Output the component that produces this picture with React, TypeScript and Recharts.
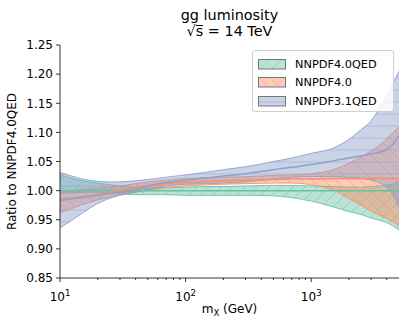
import { Area, ComposedChart, Legend, Line, XAxis, YAxis } from "recharts";

// invariant mass points (GeV)
const masses = [10, 12, 15, 20, 25, 30, 40, 50, 70, 100, 150, 200, 300, 500, 700, 1000, 1500, 2000, 2500, 3000, 3500, 4000, 4500, 5000];

// NNPDF4.0QED (reference)
const qedCentral = [1, 1, 1, 1, 1, 1, 1, 1, 1, 1, 1, 1, 1, 1, 1, 1, 1, 1, 1, 1, 1, 1, 1, 1];
const qedLow = [0.996, 0.996, 0.997, 0.997, 0.996, 0.995, 0.993, 0.993, 0.993, 0.992, 0.992, 0.992, 0.992, 0.991, 0.988, 0.982, 0.972, 0.964, 0.959, 0.953, 0.949, 0.945, 0.939, 0.932];
const qedHigh = [1.027, 1.022, 1.017, 1.013, 1.01, 1.008, 1.005, 1.004, 1.005, 1.006, 1.007, 1.007, 1.008, 1.009, 1.009, 1.008, 1.007, 1.006, 1.006, 1.007, 1.008, 1.01, 1.012, 1.015];

// NNPDF4.0
const n40Central = [0.982, 0.985, 0.989, 0.993, 0.997, 1.0, 1.005, 1.008, 1.012, 1.014, 1.016, 1.017, 1.018, 1.019, 1.02, 1.02, 1.021, 1.021, 1.021, 1.021, 1.021, 1.021, 1.021, 1.021];
const n40Low = [0.962, 0.968, 0.976, 0.984, 0.989, 0.993, 0.998, 1.001, 1.005, 1.008, 1.01, 1.011, 1.012, 1.013, 1.013, 1.01, 1.001, 0.986, 0.975, 0.965, 0.958, 0.952, 0.946, 0.94];
const n40High = [0.999, 1.0, 1.002, 1.004, 1.006, 1.008, 1.012, 1.015, 1.018, 1.021, 1.022, 1.023, 1.024, 1.026, 1.027, 1.029, 1.036, 1.047, 1.058, 1.068, 1.078, 1.089, 1.1, 1.11];

// NNPDF3.1QED
const n31Central = [0.984, 0.986, 0.989, 0.992, 0.995, 0.997, 1.001, 1.008, 1.014, 1.018, 1.022, 1.025, 1.029, 1.036, 1.04, 1.045, 1.051, 1.056, 1.06, 1.063, 1.066, 1.071, 1.08, 1.094];
const n31Low = [0.936, 0.947, 0.961, 0.978, 0.987, 0.992, 0.997, 1.002, 1.008, 1.011, 1.012, 1.013, 1.015, 1.02, 1.023, 1.024, 1.024, 1.023, 1.021, 1.018, 1.013, 1.005, 0.992, 0.972];
const n31High = [1.031, 1.026, 1.02, 1.016, 1.015, 1.015, 1.017, 1.019, 1.023, 1.027, 1.032, 1.036, 1.041, 1.05, 1.056, 1.064, 1.073, 1.088, 1.105, 1.12, 1.142, 1.162, 1.185, 1.205];

const yTicks = [0.85, 0.9, 0.95, 1.0, 1.05, 1.1, 1.15, 1.2, 1.25];
const majorTicks = [10, 100, 1000];
const minorTicks = [20, 30, 40, 50, 60, 70, 80, 90, 200, 300, 400, 500, 600, 700, 800, 900, 2000, 3000, 4000];

const series = [
  { key: "qed", central: "qedC", name: "NNPDF4.0QED", color: "#66c2a5", hatch: "M0,12 L12,0 M-3,3 L3,-3 M9,15 L15,9" },
  { key: "n40", central: "n40C", name: "NNPDF4.0", color: "#fc8d62", hatch: "M0,0 L12,12 M-3,9 L3,15 M9,-3 L15,3" },
  { key: "n31", central: "n31C", name: "NNPDF3.1QED", color: "#8da0cb", hatch: "M0,6 L12,6" },
];

const data = masses.map((m, i) => ({
  m,
  qed: [qedLow[i], qedHigh[i]],
  n40: [n40Low[i], n40High[i]],
  n31: [n31Low[i], n31High[i]],
  qedC: qedCentral[i],
  n40C: n40Central[i],
  n31C: n31Central[i],
}));

const FONT = "'DejaVu Sans', sans-serif";

function XTick({ x, y, payload }: any) {
  const v = payload.value;
  const major = majorTicks.includes(v);
  return (
    <g>
      <line x1={x} x2={x} y1={y} y2={y + (major ? 4 : 2)} stroke="#000" strokeWidth={0.8} />
      {major && (
        <text x={x} y={y + 23} textAnchor="middle" fontSize={12} fill="#000" fontFamily={FONT}>
          10
          <tspan dy={-5} fontSize={8.5}>
            {Math.round(Math.log10(v))}
          </tspan>
        </text>
      )}
    </g>
  );
}

function XLabel({ viewBox }: any) {
  const cx = viewBox.x + viewBox.width / 2;
  return (
    <text x={cx} y={viewBox.y + 35} textAnchor="middle" fontSize={12} fill="#000" fontFamily={FONT}>
      m
      <tspan fontSize={8.5} dy={3}>
        X
      </tspan>
      <tspan dy={-3}> (GeV)</tspan>
    </text>
  );
}

function YLabel({ viewBox }: any) {
  const cy = viewBox.y + viewBox.height / 2;
  return (
    <text x={16} y={cy} transform={`rotate(-90 16 ${cy})`} textAnchor="middle" fontSize={12} fill="#000" fontFamily={FONT}>
      Ratio to NNPDF4.0QED
    </text>
  );
}

function LegendBox() {
  return (
    <div
      style={{
        background: "rgba(255,255,255,0.8)",
        border: "1px solid #d0d0d0",
        borderRadius: 3,
        padding: "4px 5px",
        boxSizing: "border-box",
        width: 142,
        height: 62,
        fontFamily: FONT,
        fontSize: 11.3,
        color: "#000",
      }}
    >
      {series.map((s) => (
        <div key={s.key} style={{ display: "flex", alignItems: "center", height: 18.5 }}>
          <svg width={28} height={11} style={{ marginRight: 9 }}>
            <rect x={0.5} y={0.5} width={27} height={9.5} fill={`url(#hatch-${s.key})`} stroke="#777" strokeWidth={1} />
          </svg>
          <span>{s.name}</span>
        </div>
      ))}
    </div>
  );
}

export default function App() {
  return (
    <div style={{ position: "absolute", left: 0, top: 0, width: 407, height: 324, background: "#fff", fontFamily: FONT }}>
      <div
        style={{
          position: "absolute",
          left: 129.5,
          top: 8.3,
          width: 200,
          textAlign: "center",
          fontSize: 14.4,
          lineHeight: "15.5px",
          color: "#000",
          zIndex: 2,
        }}
      >
        <div>gg luminosity</div>
        <div>
          √<span style={{ display: "inline-block", borderTop: "1px solid #000", lineHeight: "11px" }}>s</span> = 14 TeV
        </div>
      </div>
      <ComposedChart width={407} height={324} data={data} margin={{ top: 45, right: 8, bottom: 0, left: 0 }}>
        <defs>
          {series.map((s) => (
            <pattern key={s.key} id={`hatch-${s.key}`} patternUnits="userSpaceOnUse" width={12} height={12}>
              <rect width={12} height={12} fill={s.color} fillOpacity={0.45} />
              <path d={s.hatch} stroke={s.color} strokeWidth={0.8} strokeOpacity={0.65} />
            </pattern>
          ))}
        </defs>
        <XAxis
          dataKey="m"
          type="number"
          scale="log"
          domain={[10, 5000]}
          allowDataOverflow
          ticks={[...majorTicks, ...minorTicks]}
          interval={0}
          tick={<XTick />}
          tickLine={false}
          tickSize={0}
          tickMargin={0}
          height={46}
          axisLine={{ stroke: "#000", strokeWidth: 0.8 }}
          label={<XLabel />}
        />
        <YAxis
          type="number"
          domain={[0.85, 1.25]}
          allowDataOverflow
          ticks={yTicks}
          interval={0}
          width={60}
          tickSize={4}
          tickMargin={3}
          tickFormatter={(v: number) => v.toFixed(2)}
          tick={{ fill: "#000", fontSize: 12, fontFamily: FONT }}
          tickLine={{ stroke: "#000", strokeWidth: 0.8 }}
          axisLine={{ stroke: "#000", strokeWidth: 0.8 }}
          label={<YLabel />}
        />
        {series.map((s) => (
          <Area
            key={s.key}
            dataKey={s.key}
            type="monotone"
            fill={`url(#hatch-${s.key})`}
            fillOpacity={1}
            stroke={s.color}
            strokeWidth={1}
            strokeOpacity={0.9}
            dot={false}
            activeDot={false}
            isAnimationActive={false}
          />
        ))}
        {series.map((s) => (
          <Line
            key={s.central}
            dataKey={s.central}
            type="monotone"
            stroke={s.color}
            strokeWidth={1.5}
            dot={false}
            activeDot={false}
            isAnimationActive={false}
          />
        ))}
        <Legend
          layout="vertical"
          align="center"
          verticalAlign="middle"
          wrapperStyle={{ position: "absolute", left: 252, top: 50, width: 142, height: 62 }}
          content={() => <LegendBox />}
        />
      </ComposedChart>
    </div>
  );
}
